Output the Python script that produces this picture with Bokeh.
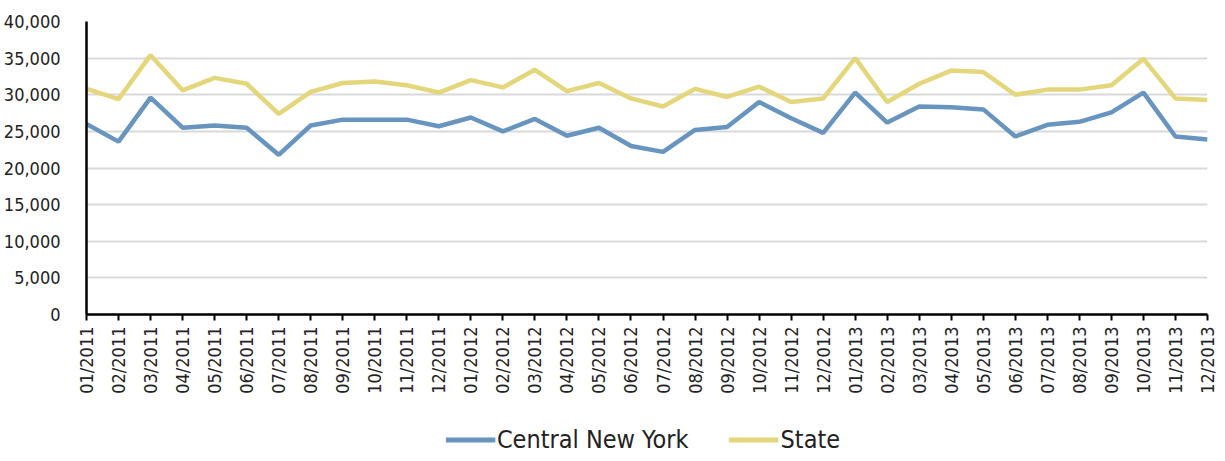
from bokeh.plotting import figure
from bokeh.models import FixedTicker, NumeralTickFormatter, Legend, LegendItem, Range1d
from bokeh.layouts import column
from bokeh.embed import file_html
from bokeh.resources import INLINE
import math

months = ["01/2011", "02/2011", "03/2011", "04/2011", "05/2011", "06/2011",
          "07/2011", "08/2011", "09/2011", "10/2011", "11/2011", "12/2011",
          "01/2012", "02/2012", "03/2012", "04/2012", "05/2012", "06/2012",
          "07/2012", "08/2012", "09/2012", "10/2012", "11/2012", "12/2012",
          "01/2013", "02/2013", "03/2013", "04/2013", "05/2013", "06/2013",
          "07/2013", "08/2013", "09/2013", "10/2013", "11/2013", "12/2013"]

central_ny = [26000, 23600, 29600, 25500, 25800, 25500, 21800, 25800, 26600, 26600, 26600, 25700,
              26900, 25000, 26700, 24400, 25500, 23000, 22200, 25200, 25600, 29000, 26800, 24800,
              30300, 26200, 28400, 28300, 28000, 24300, 25900, 26300, 27600, 30300, 24300, 23900]

state = [30800, 29400, 35400, 30600, 32300, 31500, 27400, 30400, 31600, 31800, 31300, 30300,
         32000, 31000, 33400, 30500, 31600, 29500, 28400, 30800, 29700, 31100, 29000, 29500,
         35000, 29000, 31500, 33300, 33100, 30000, 30700, 30700, 31300, 34900, 29500, 29300]

series_names = ["Central New York", "State"]

y_ticks = [0, 5000, 10000, 15000, 20000, 25000, 30000, 35000, 40000]

FONT = "'DejaVu Sans Condensed', 'Roboto Condensed', Roboto, sans-serif"
BLUE = "#6795BF"
YELLOW = "#E3D67B"

xs = list(range(len(months)))

p = figure(frame_width=1121, frame_height=293, output_backend="svg", toolbar_location=None,
           x_range=Range1d(0, len(months) - 1), y_range=Range1d(0, 40000),
           min_border_left=78, min_border_right=10, min_border_top=21, min_border_bottom=105)
p.outline_line_color = None
p.background_fill_color = "white"

p.line(xs, central_ny, line_color=BLUE, line_width=4.5)
p.line(xs, state, line_color=YELLOW, line_width=4.5)

p.xaxis.ticker = FixedTicker(ticks=xs)
p.xaxis.major_label_overrides = {i: m for i, m in enumerate(months)}
p.xaxis.major_label_orientation = math.pi / 2
p.xaxis.major_label_text_font = FONT
p.xaxis.major_label_text_font_size = "18px"
p.xaxis.major_label_text_color = "#222222"
p.xaxis.major_tick_in = 0
p.xaxis.major_tick_out = 6
p.xaxis.major_tick_line_width = 2
p.xaxis.major_tick_line_color = "black"
p.xaxis.minor_tick_line_color = None
p.xaxis.axis_line_width = 2.5
p.xaxis.axis_line_color = "black"
p.xaxis.major_label_standoff = 6

p.yaxis.ticker = FixedTicker(ticks=y_ticks)
p.yaxis.formatter = NumeralTickFormatter(format="0,0")
p.yaxis.major_label_text_font = FONT
p.yaxis.major_label_text_font_size = "18px"
p.yaxis.major_label_text_color = "#222222"
p.yaxis.major_tick_line_color = None
p.yaxis.minor_tick_line_color = None
p.yaxis.axis_line_width = 2.5
p.yaxis.axis_line_color = "black"
p.yaxis.major_label_standoff = 20

p.xgrid.grid_line_color = None
p.ygrid.grid_line_color = "#D9D9D9"
p.ygrid.grid_line_width = 2

# Legend strip below the chart (series drawn out of view so only the legend shows)
p2 = figure(width=1209, height=40, output_backend="svg", toolbar_location=None,
            x_range=Range1d(1000, 1001), y_range=Range1d(0, 40000),
            x_axis_location=None, y_axis_location=None, min_border=0)
p2.outline_line_color = None
p2.grid.visible = False
l1 = p2.line(xs, central_ny, line_color=BLUE, line_width=5)
l2 = p2.line(xs, state, line_color=YELLOW, line_width=5)

legend = Legend(items=[LegendItem(label=series_names[0], renderers=[l1]),
                       LegendItem(label=series_names[1], renderers=[l2])],
                orientation="horizontal", location="center")
legend.label_text_font = FONT
legend.label_text_font_size = "25px"
legend.label_text_color = "#222222"
legend.glyph_width = 50
legend.label_standoff = 2
legend.spacing = 40
legend.border_line_color = None
legend.background_fill_alpha = 0
legend.margin = 0
legend.padding = 0
p2.add_layout(legend)

open("out.html", "w").write(file_html(column(p, p2, spacing=0), INLINE))
